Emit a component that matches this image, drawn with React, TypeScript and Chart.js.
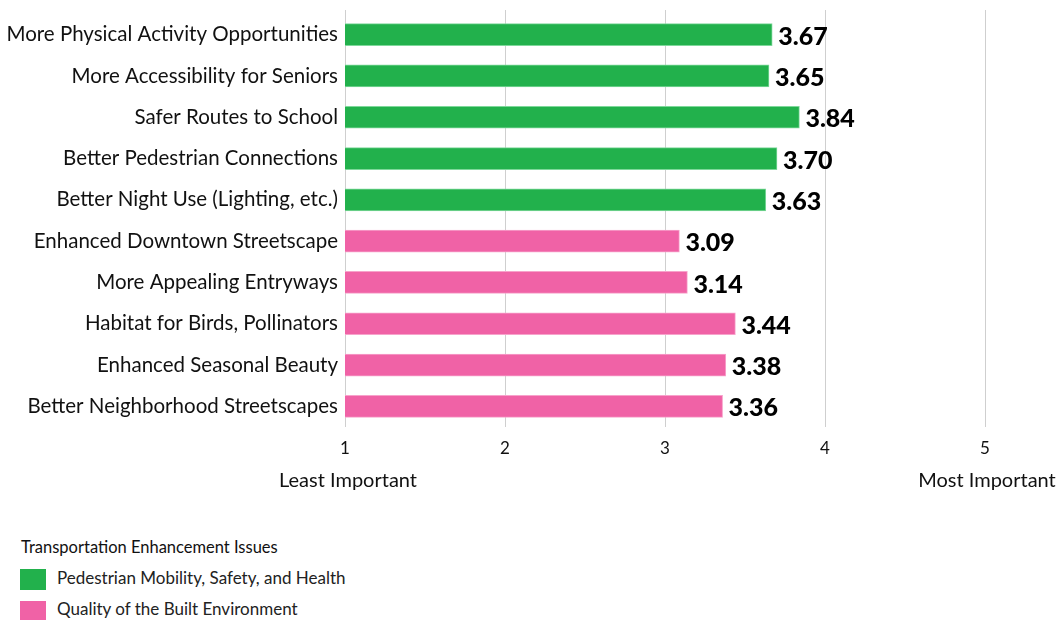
import React, { useEffect, useRef } from "react";
import { Chart, registerables } from "chart.js";

Chart.register(...registerables);

const categories = [
  "More Physical Activity Opportunities",
  "More Accessibility for Seniors",
  "Safer Routes to School",
  "Better Pedestrian Connections",
  "Better Night Use (Lighting, etc.)",
  "Enhanced Downtown Streetscape",
  "More Appealing Entryways",
  "Habitat for Birds, Pollinators",
  "Enhanced Seasonal Beauty",
  "Better Neighborhood Streetscapes",
];

const pedestrianValues = [3.67, 3.65, 3.84, 3.7, 3.63, null, null, null, null, null];
const builtValues = [null, null, null, null, null, 3.09, 3.14, 3.44, 3.38, 3.36];

const seriesNames = ["Pedestrian Mobility, Safety, and Health", "Quality of the Built Environment"];
const legendTitle = "Transportation Enhancement Issues";
const xTicks = [1, 2, 3, 4, 5];
const xEndLabels = ["Least Important", "Most Important"];

const GREEN = "#22b14c";
const PINK = "#f062a6";
const GRID = "#cfcfcf";
const FONT = "Lato, 'Open Sans', sans-serif";

export default function App() {
  const ref = useRef<HTMLCanvasElement | null>(null);

  useEffect(() => {
    if (!ref.current) return;
    const valueLabels = {
      id: "valueLabels",
      afterDatasetsDraw(chart: any) {
        const ctx = chart.ctx;
        ctx.save();
        ctx.font = `900 25px ${FONT}`;
        ctx.fillStyle = "#000";
        ctx.textAlign = "left";
        ctx.textBaseline = "middle";
        chart.data.datasets.forEach((ds: any, di: number) => {
          const meta = chart.getDatasetMeta(di);
          meta.data.forEach((el: any, i: number) => {
            const v = ds.data[i];
            if (v === null || v === undefined) return;
            ctx.fillText(v.toFixed(2), el.x + 6, el.y + 2);
          });
        });
        ctx.restore();
      },
    };
    const gridExtend = {
      id: "gridExtend",
      beforeDatasetsDraw(chart: any) {
        const ctx = chart.ctx;
        const x = chart.scales.x;
        const top = chart.chartArea.top;
        ctx.save();
        ctx.strokeStyle = GRID;
        ctx.lineWidth = 1;
        xTicks.forEach((v) => {
          const px = Math.round(x.getPixelForValue(v)) + 0.5;
          ctx.beginPath();
          ctx.moveTo(px, top - 4);
          ctx.lineTo(px, top);
          ctx.stroke();
        });
        ctx.restore();
      },
    };
    const endLabels = {
      id: "endLabels",
      afterDraw(chart: any) {
        const ctx = chart.ctx;
        const x = chart.scales.x;
        ctx.save();
        ctx.font = `20px ${FONT}`;
        ctx.fillStyle = "#111";
        ctx.textAlign = "center";
        ctx.textBaseline = "middle";
        ctx.fillText(xEndLabels[0], x.getPixelForValue(xTicks[0]) + 3, 481);
        ctx.fillText(xEndLabels[1], x.getPixelForValue(xTicks[xTicks.length - 1]) + 2, 481);
        ctx.restore();
      },
    };

    const chart = new Chart(ref.current, {
      type: "bar",
      data: {
        labels: categories,
        datasets: [
          {
            label: seriesNames[0],
            data: pedestrianValues as any,
            backgroundColor: GREEN,
            borderColor: "#7ed89a",
            borderWidth: 1,
            barThickness: 22,
            grouped: false,
          } as any,
          {
            label: seriesNames[1],
            data: builtValues as any,
            backgroundColor: PINK,
            borderColor: "#f7a3cb",
            borderWidth: 1,
            barThickness: 22,
            grouped: false,
          } as any,
        ],
      },
      options: {
        indexAxis: "y",
        animation: false,
        responsive: false,
        maintainAspectRatio: false,
        layout: { padding: { top: 14, right: 73, left: 0, bottom: 0 } },
        plugins: {
          legend: { display: false },
          tooltip: { enabled: false },
        },
        scales: {
          x: {
            min: 1,
            max: 5,
            afterFit: (s: any) => {
              s.height = 93;
            },
            afterBuildTicks: (s: any) => {
              s.ticks = xTicks.map((v) => ({ value: v }));
            },
            grid: { color: GRID, lineWidth: 1, drawTicks: false },
            border: { display: false },
            ticks: {
              padding: 11,
              color: "#111",
              font: { family: FONT, size: 17 },
            },
          },
          y: {
            afterFit: (s: any) => {
              s.width = 345;
              s.paddingTop = 0;
              s.paddingBottom = 0;
            },
            grid: { display: false, drawTicks: false },
            border: { display: false },
            ticks: {
              padding: 7,
              color: "#111",
              font: { family: FONT, size: 20.5 },
            },
          },
        },
      },
      plugins: [gridExtend, valueLabels, endLabels],
    });
    return () => chart.destroy();
  }, []);

  const legendItem = (color: string, text: string, top: number, textTop: number) => (
    <>
      <div style={{ position: "absolute", left: 20, top, width: 26, height: 21, background: color }} />
      <div style={{ position: "absolute", left: 57, top: textTop, fontSize: 17, lineHeight: "20px", color: "#222" }}>
        {text}
      </div>
    </>
  );

  return (
    <div
      style={{
        position: "fixed",
        left: 0,
        top: 0,
        width: 1058,
        height: 620,
        background: "#fff",
        fontFamily: FONT,
        overflow: "hidden",
      }}
    >
      <canvas ref={ref} width={1058} height={520} style={{ display: "block" }} />
      <div style={{ position: "absolute", left: 21, top: 537, fontSize: 16.5, lineHeight: "20px", color: "#111" }}>
        {legendTitle}
      </div>
      {legendItem(GREEN, seriesNames[0], 569, 568)}
      {legendItem(PINK, seriesNames[1], 601, 599)}
    </div>
  );
}
